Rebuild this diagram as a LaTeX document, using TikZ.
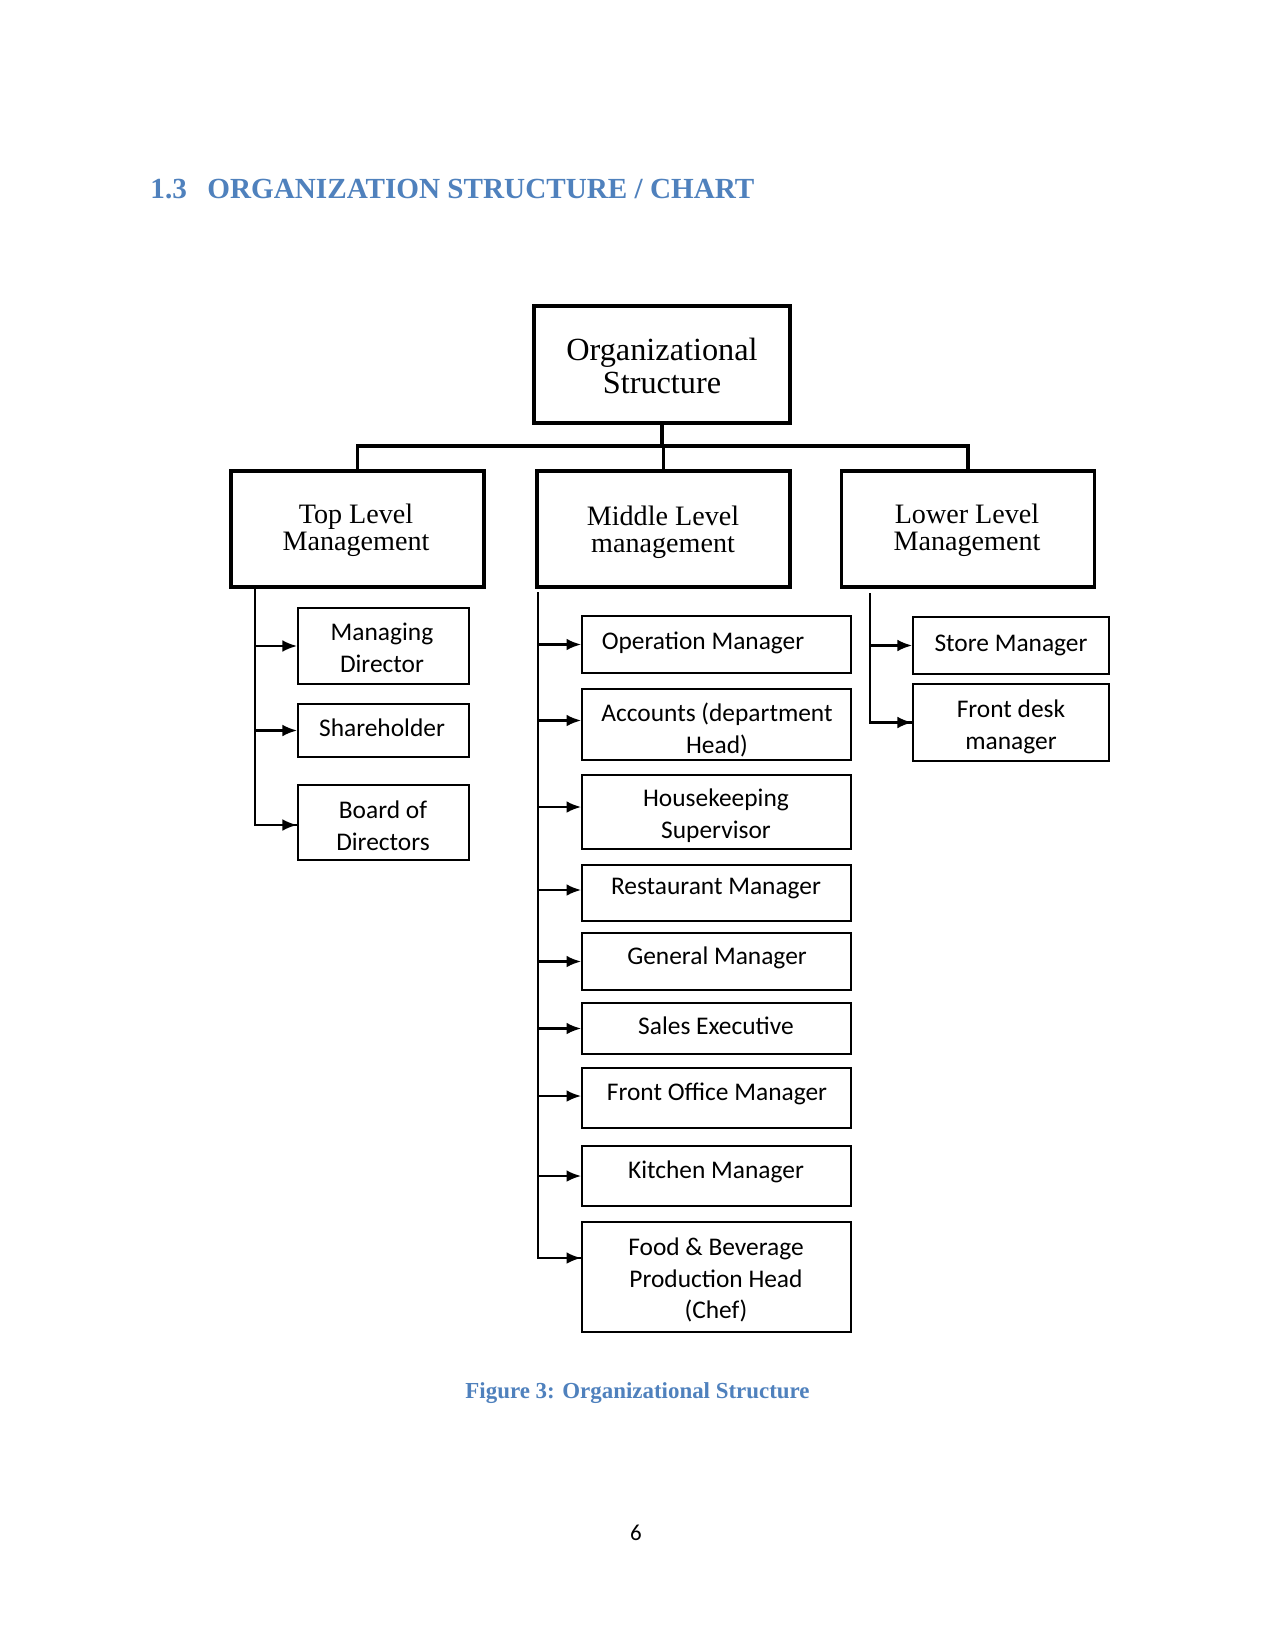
\documentclass[tikz,border=0pt]{standalone}
\usepackage{fontspec}
\setmainfont{Liberation Serif}
\newfontfamily\calfont{Carlito}
\usetikzlibrary{arrows.meta,calc}
\definecolor{titleblue}{HTML}{4F81BD}
\begin{document}
\begin{tikzpicture}[x=0.48pt,y=-0.48pt,
  rootbox/.style={draw, line width=1.6pt, minimum width=122.9pt, minimum height=56.2pt, inner sep=0pt},
  lvlbox/.style={draw, line width=1.5pt, minimum width=121.4pt, minimum height=55.7pt, inner sep=0pt},
  cbox/.style={draw, line width=0.9pt, inner sep=0pt},
  topc/.style={cbox, minimum width=82.1pt},
  midc/.style={cbox, minimum width=129.1pt},
  lowc/.style={cbox, minimum width=94.1pt},
  roottext/.style={font=\fontsize{15.5}{15.6}\selectfont, align=center, inner sep=0pt},
  lvltext/.style={font=\fontsize{13.5}{12.8}\selectfont, align=center, inner sep=0pt},
  ctext/.style={font=\calfont\fontsize{12.2}{15.2}\selectfont, align=center, inner sep=0pt},
  barline/.style={line width=1.5pt},
  spine/.style={line width=1pt},
  arr/.style={line width=1pt, -{Latex[length=7pt,width=5.6pt]}},
  headtext/.style={font=\bfseries\fontsize{14}{16}\selectfont, text=titleblue, inner sep=0pt, anchor=base west},
]
\useasboundingbox[fill=white] (0,0) rectangle (1275,1650);

% Title
\node[headtext] (secnum) at (150,199) {1.3};
\node[headtext] (sectitle) at (207,199) {ORGANIZATION STRUCTURE / CHART};

% Root
\node[rootbox] (root) at (662,364.5) {};
\node[roottext] (roott) at (662,366) {Organizational\\Structure};

% Level boxes
\node[lvlbox] (top) at (357.5,529) {};
\node[lvltext] (topt) at (356,530) {Top Level\\Management};
\node[lvlbox] (mid) at (663.5,529) {};
\node[lvltext] (midt) at (663,532) {Middle Level\\management};
\node[lvlbox] (low) at (968,529) {};
\node[lvltext] (lowt) at (967,530) {Lower Level\\Management};

% Top connectors
\coordinate (bar) at (662,446);
\draw[barline] (root.south) -- (bar);
\draw[barline] (top.north) |- (bar) -| (low.north);
\draw[barline] (mid.north |- bar) -- (mid.north);

% Top level children
\node[topc, minimum height=36.5pt] (md) at (383.5,646) {};
\node[ctext] (mdt) at (382,648) {Managing\\Director};
\node[topc, minimum height=25.4pt] (sh) at (383.5,730.5) {};
\node[ctext] (sht) at (382,728) {Shareholder};
\node[topc, minimum height=36pt] (bd) at (383.5,822.5) {};
\node[ctext] (bdt) at (383,826) {Board of\\Directors};

\coordinate (ts) at (255,587);
\draw[spine] (ts) |- ($(bd.west)+(0,2.5)$);
\draw[arr] (ts |- md.west) -- (md.west);
\draw[arr] (ts |- sh.west) -- (sh.west);
\draw[arr] (ts |- {$(bd.west)+(0,2.5)$}) -- ($(bd.west)+(0,2.5)$);

% Middle level children
\node[midc, minimum height=27.4pt] (om) at (716.5,644.5) {};
\node[ctext] (omt) at (703,643) {Operation Manager};
\node[midc, minimum height=34.1pt] (ac) at (716.5,724.5) {};
\node[ctext] (act) at (717,730) {Accounts (department\\Head)};
\node[midc, minimum height=35.5pt] (hk) at (716.5,812) {};
\node[ctext] (hkt) at (716,816) {Housekeeping\\Supervisor};
\node[midc, minimum height=26.9pt] (rm) at (716.5,893) {};
\node[ctext] (rmt) at (716,889) {Restaurant Manager};
\node[midc, minimum height=27.4pt] (gm) at (716.5,961.5) {};
\node[ctext] (gmt) at (717,958) {General Manager};
\node[midc, minimum height=24.5pt] (se) at (716.5,1028.5) {};
\node[ctext] (set) at (716,1026) {Sales Executive};
\node[midc, minimum height=28.8pt] (fo) at (716.5,1098) {};
\node[ctext] (fot) at (717,1094) {Front Office Manager};
\node[midc, minimum height=28.8pt] (km) at (716.5,1176) {};
\node[ctext] (kmt) at (716,1172) {Kitchen Manager};
\node[midc, minimum height=52.8pt] (fb) at (716.5,1277) {};
\node[ctext] (fbt) at (716,1280) {Food \& Beverage\\Production Head\\(Chef)};

\coordinate (ms) at (538,592);
\draw[spine] (ms) |- ($(fb.west)+(0,-19)$);
\draw[arr] (ms |- om.west) -- (om.west);
\draw[arr] (ms |- {$(ac.west)+(0,-4)$}) -- ($(ac.west)+(0,-4)$);
\draw[arr] (ms |- {$(hk.west)+(0,-5)$}) -- ($(hk.west)+(0,-5)$);
\draw[arr] (ms |- {$(rm.west)+(0,-3)$}) -- ($(rm.west)+(0,-3)$);
\draw[arr] (ms |- gm.west) -- (gm.west);
\draw[arr] (ms |- se.west) -- (se.west);
\draw[arr] (ms |- {$(fo.west)+(0,-2)$}) -- ($(fo.west)+(0,-2)$);
\draw[arr] (ms |- km.west) -- (km.west);
\draw[arr] (ms |- {$(fb.west)+(0,-19)$}) -- ($(fb.west)+(0,-19)$);

% Lower level children
\node[lowc, minimum height=27.4pt] (sm) at (1011,645.5) {};
\node[ctext] (smt) at (1011,645) {Store Manager};
\node[lowc, minimum height=37pt] (fd) at (1011,722.5) {};
\node[ctext] (fdt) at (1011,727) {Front desk\\manager};

\coordinate (ls) at (870,593);
\draw[spine] (ls) |- (fd.west);
\draw[arr] (ls |- sm.west) -- (sm.west);
\draw[arr] (ls |- fd.west) -- (fd.west);

% Caption and page number
\node[font=\bfseries\fontsize{11}{13}\selectfont, text=titleblue, inner sep=0pt, anchor=base] (caption) at (637.5,1398) {Figure 3: Organizational Structure};
\node[font=\calfont\fontsize{11}{13}\selectfont, inner sep=0pt, anchor=base] (pagenum) at (636,1540) {6};
\end{tikzpicture}
\end{document}
